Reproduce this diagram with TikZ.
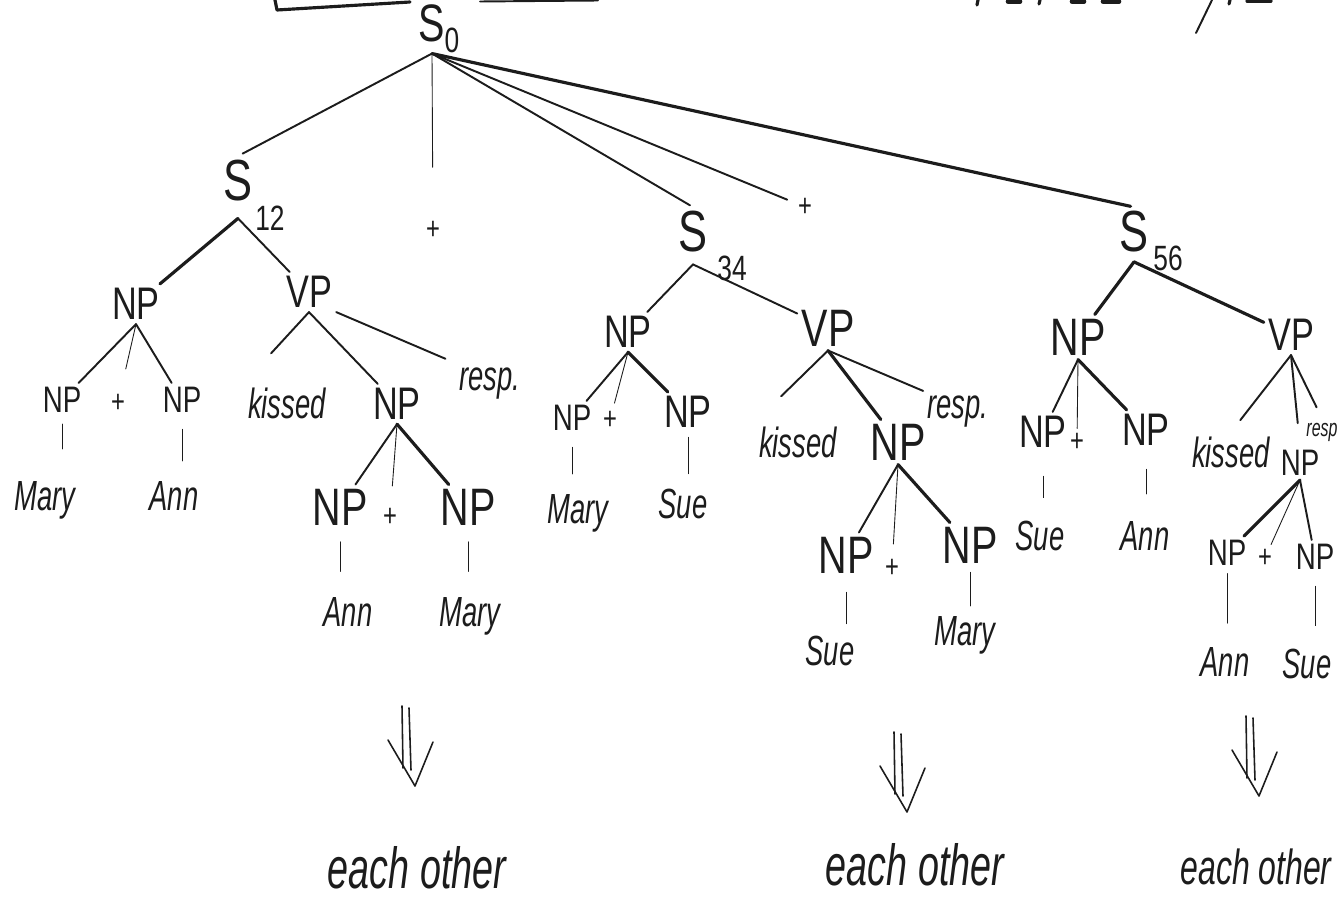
\documentclass[tikz,border=0pt]{standalone}
\usepackage{fontspec}
\newfontfamily\hand[FakeStretch=0.75]{Liberation Sans}
\newfontfamily\handw[FakeStretch=0.65]{Liberation Sans}
\definecolor{ink}{HTML}{1C1C1C}
\begin{document}
\begin{tikzpicture}[x=0.02cm, y=-0.02cm, line cap=round, line join=round,
  every node/.style={inner sep=1.5pt, outer sep=1pt, text=ink},
  cat/.style={font=\hand\fontsize{26}{26}\selectfont},
  catsm/.style={font=\hand\fontsize{21}{21}\selectfont},
  catlg/.style={font=\hand\fontsize{30}{30}\selectfont},
  ess/.style={font=\hand\fontsize{33}{33}\selectfont},
  idx/.style={font=\hand\fontsize{20}{20}\selectfont},
  pls/.style={font=\hand\fontsize{18}{18}\selectfont},
  wd/.style={font=\handw\itshape\fontsize{24}{24}\selectfont, anchor=base},
  wdsm/.style={font=\handw\itshape\fontsize{14}{14}\selectfont, anchor=base},
  gloss/.style={font=\handw\itshape\fontsize{33}{33}\selectfont, anchor=base},
  edge/.style={draw=ink, line width=1.1pt},
  fine/.style={draw=ink, line width=0.5pt},
  heavy/.style={draw=ink, line width=1.8pt},
  impl/.style={draw=ink, line width=0.9pt},
  pics/dnarrow/.style={code={
    \draw[impl] (-4,0) -- (-3,62);
    \draw[impl] (3,2) -- (5,64);
    \draw[impl] (-18,34) -- (9,80) -- (27,36);
  }}
]
\useasboundingbox (0,0) rectangle (1339,909);

% --- heading fragments along the top edge
\draw[heavy] (275,0) -- (277,10) -- (410,2);
\draw[edge] (480,1.5) -- (598,0.5);
\draw[heavy] (978,0) -- (977,5);
\draw[heavy, line width=2.6pt] (1008,1.5) -- (1020,1.5);
\draw[heavy] (1040,0) -- (1039,4);
\draw[heavy, line width=2.6pt] (1072,1.5) -- (1084,1.5);
\draw[heavy, line width=2.6pt] (1103,1.5) -- (1119,1.5);
\draw[edge] (1212,0) -- (1196,33);
\draw[heavy] (1230,0) -- (1229,4);
\draw[heavy] (1247,1) -- (1271,1);

% --- top level
\node[ess, font=\hand\fontsize{30}{30}\selectfont] (s0) at (432,23) {S};
\node[idx] (s0sub) at (452,40) {0};
\coordinate (s0f) at ([yshift=-1.5mm]s0.south);

\node[ess] (s12) at (238,181) {S};
\node[idx] (s12sub) at (270,218) {12};
\node[pls] (p1) at (433,230) {+};
\node[ess] (s34) at (693,232) {S};
\node[idx] (s34sub) at (732,268) {34};
\node[pls] (p2) at (805,207) {+};
\node[ess] (s56) at (1134,232) {S};
\node[idx] (s56sub) at (1168,258) {56};
\coordinate (s12f) at ([yshift=-2.5mm]s12.south);
\coordinate (s34f) at ([yshift=-1.5mm]s34.south);
\coordinate (s56f) at ([yshift=-1mm]s56.south);

\draw[edge, shorten >=3pt] (s0f) -- (s12.north);
\draw[fine, shorten >=28pt] (s0f) -- (p1);
\draw[edge, shorten >=2pt] (s0f) -- (s34.north);
\draw[edge, shorten >=4pt] (s0f) -- (p2);
\draw[heavy, shorten >=2pt] (s0f) -- (s56.north);

% --- first conjunct
\node[cat] (np1) at (136,304) {NP};
\node[cat] (vp1) at (309,292) {VP};
\node[catsm] (np1a) at (62,400) {NP};
\node[pls] (p3) at (118,403) {+};
\node[catsm] (np1b) at (182,400) {NP};
\node[wd] (kiss1) at (287,418) {kissed};
\node[cat] (np2) at (397,404) {NP};
\node[wd] (resp1) at (490,390) {resp.};
\node[wd] (mary1) at (45,510) {Mary};
\node[wd] (ann1) at (174,510) {Ann};
\node[catlg] (np2a) at (340,507) {NP};
\node[pls] (p4) at (390,517) {+};
\node[catlg] (np2b) at (468,507) {NP};
\node[wd] (ann2) at (348,626) {Ann};
\node[wd] (mary2) at (470,626) {Mary};

\draw[heavy] (s12f) -- (np1);
\draw[edge] (s12f) -- (vp1);
\draw[edge] (np1.south) -- (np1a);
\draw[fine, shorten >=12pt] (np1.south) -- (p3);
\draw[edge] (np1.south) -- (np1b);
\draw[edge, shorten >=23pt] (vp1.south) -- (kiss1.north west);
\draw[edge] (vp1.south) -- (np2);
\draw[edge, shorten >=6pt] (vp1.south east) -- (resp1.north west);
\draw[edge] (np2.south) -- (np2a);
\draw[fine, shorten >=10pt] (np2.south) -- (p4);
\draw[heavy] (np2.south) -- (np2b);
\draw[fine, shorten <=4pt, shorten >=15.7pt] (np1a.south) -- (np1a.south |- mary1.north);
\draw[fine, shorten <=7pt, shorten >=8.9pt] (np1b.south) -- (np1b.south |- ann1.north);
\draw[fine, shorten <=7pt, shorten >=12pt] (np2a.south) -- (np2a.south |- ann2.north);
\draw[fine, shorten <=7pt, shorten >=12pt] (np2b.south) -- (np2b.south |- mary2.north);

% --- second conjunct
\node[cat] (np3) at (628,332) {NP};
\node[catlg] (vp3) at (828,328) {VP};
\node[catsm] (np3a) at (572,418) {NP};
\node[pls] (p5) at (610,420) {+};
\node[cat] (np3b) at (688,412) {NP};
\node[wd] (mary3) at (578,523) {Mary};
\node[wd] (sue3) at (683,518) {Sue};
\node[wd] (kiss3) at (798,457) {kissed};
\node[catlg] (np4) at (898,442) {NP};
\node[wd] (resp3) at (958,418) {resp.};
\node[catlg] (np4a) at (846,555) {NP};
\node[pls] (p6) at (892,568) {+};
\node[catlg] (np4b) at (970,545) {NP};
\node[wd] (sue4) at (830,665) {Sue};
\node[wd] (mary4) at (965,645) {Mary};

\draw[edge] (s34f) -- (np3);
\draw[edge] (s34f) -- (vp3);
\draw[edge] (np3.south) -- (np3a);
\draw[fine, shorten >=2pt] (np3.south) -- (p5);
\draw[heavy] (np3.south) -- (np3b);
\draw[edge, shorten >=21pt] (vp3.south) -- (kiss3.north west);
\draw[heavy] (vp3.south) -- (np4);
\draw[edge] (vp3.south) -- (resp3.north west);
\draw[edge] (np4.south) -- (np4a);
\draw[fine, shorten >=6pt] (np4.south) -- (p6);
\draw[heavy] (np4.south) -- (np4b);
\draw[fine, shorten <=7pt, shorten >=8.9pt] (np3a.south) -- (np3a.south |- mary3.north);
\draw[fine, shorten <=3pt, shorten >=6pt] (np3b.south) -- (np3b.south |- sue3.north);
\draw[fine, shorten <=8.4pt, shorten >=4.3pt] (np4a.south) -- (np4a.south |- sue4.north);
\draw[fine, shorten <=2.7pt, shorten >=3.2pt] (np4b.south) -- (np4b.south |- mary4.north);

% --- third conjunct
\node[catlg] (np5) at (1078,337) {NP};
\node[cat] (vp5) at (1291,335) {VP};
\node[cat] (np5a) at (1043,432) {NP};
\node[pls] (p7) at (1077,442) {+};
\node[cat] (np5b) at (1146,430) {NP};
\node[wd] (sue5) at (1040,550) {Sue};
\node[wd] (ann5) at (1145,550) {Ann};
\node[wd] (kiss5) at (1231,467) {kissed};
\node[catsm] (np6) at (1300,463) {NP};
\node[wdsm] (resp5) at (1322,436) {resp};
\node[catsm] (np6a) at (1227,553) {NP};
\node[pls] (p8) at (1265,558) {+};
\node[catsm] (np6b) at (1315,557) {NP};
\node[wd] (ann6) at (1225,676) {Ann};
\node[wd] (sue6) at (1307,678) {Sue};

\draw[heavy] (s56f) -- (np5);
\draw[heavy] (s56f) -- (vp5);
\draw[edge] (np5.south) -- (np5a);
\draw[fine] (np5.south) -- (p7);
\draw[heavy] (np5.south) -- (np5b);
\draw[edge, shorten >=8.6pt] (vp5.south) -- (kiss5.north);
\draw[edge, shorten >=13pt] (vp5.south) -- (np6.north);
\draw[edge, shorten >=7pt] (vp5.south) -- (resp5.north);
\draw[heavy] (np6.south) -- (np6a);
\draw[fine] (np6.south) -- (p8);
\draw[edge] (np6.south) -- (np6b);
\draw[fine, shorten <=13.8pt, shorten >=10.6pt] (np5a.south) -- (np5a.south |- sue5.north);
\draw[fine, shorten <=10.9pt, shorten >=12.9pt] (np5b.south) -- (np5b.south |- ann5.north);
\draw[fine, shorten <=2pt, shorten >=11pt] (np6a.south) -- (np6a.south |- ann6.north);
\draw[fine, shorten <=7pt, shorten >=10.6pt] (np6b.south) -- (np6b.south |- sue6.north);

% --- derived forms
\node[gloss] (eo1) at (417,888) {each other};
\node[gloss] (eo2) at (915,885) {each other};
\node[gloss, font=\handw\itshape\fontsize{28}{28}\selectfont] (eo3) at (1256,884) {each other};
\pic at (406,706) {dnarrow};
\pic at (898,732) {dnarrow};
\pic at (1250,716) {dnarrow};
\end{tikzpicture}
\end{document}
